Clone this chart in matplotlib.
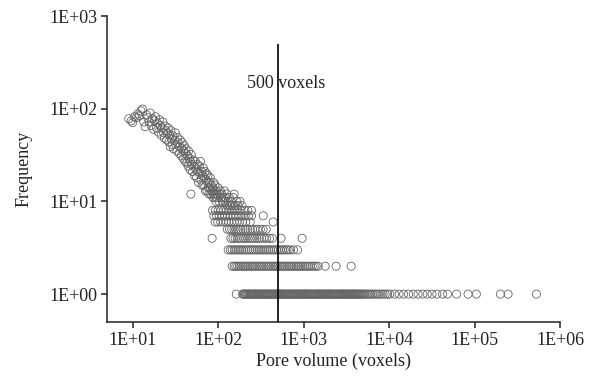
import matplotlib
matplotlib.use("Agg")
import matplotlib.pyplot as plt
from matplotlib.ticker import FixedLocator, FixedFormatter, NullLocator

plt.rcParams['font.family'] = ['Liberation Serif', 'DejaVu Serif']

# ---------------- data ----------------
x_ticks = [1e1, 1e2, 1e3, 1e4, 1e5, 1e6]
x_tick_labels = ["1E+01", "1E+02", "1E+03", "1E+04", "1E+05", "1E+06"]
y_ticks = [1, 10, 100, 1000]
y_tick_labels = ["1E+00", "1E+01", "1E+02", "1E+03"]

# upper cloud (pore volume, frequency)
cloud_v = [9, 9.6, 10, 10.5, 11, 11.5, 12, 12.5, 13, 13.5, 14, 14.5, 15, 15.5, 16, 16.5, 17,
           17.5, 18, 18.5, 19, 19.5, 20, 20.5, 21, 21.5, 22, 22.5, 23, 23.5, 24, 24.5, 25,
           25.5, 26, 26.5, 27, 27.5, 28, 28.5, 29, 29.5, 30, 31, 31.5, 32, 33, 33.5, 34, 35,
           35.5, 36, 37, 37.5, 38, 39, 39.5, 40, 41, 41.5, 42, 43, 44, 44.5, 45, 46, 47, 47.5,
           48, 48.5, 49, 50, 51, 52, 53, 54, 55, 56, 57, 58, 59, 60, 61, 62, 63, 64, 65, 66,
           67, 68, 69, 70, 71, 72, 73, 74, 75, 76, 77, 78, 79, 80, 81, 82, 83, 84, 86, 87, 88,
           89, 90, 91, 92, 93, 94, 95, 96, 98, 100, 102, 104, 106, 108, 110, 112, 115, 118,
           120, 122, 126, 128, 131, 135, 137, 142, 146, 150, 154, 158, 165, 172, 180, 190]
cloud_f = [78, 74, 71, 82, 80, 88, 84, 95, 99, 72, 64, 86, 80, 72, 90, 66, 78,
           60, 74, 82, 62, 70, 56, 76, 66, 52, 62, 72, 55, 48, 65, 58, 46,
           54, 62, 44, 52, 39, 58, 47, 41, 51, 37, 46, 55, 41, 35, 49, 43, 33,
           39, 46, 31, 37, 43, 29, 35, 40, 27, 33, 37, 26, 31, 24, 35, 29, 22, 27,
           12, 32, 25, 21, 28, 24, 19, 27, 22, 18, 25, 21, 16, 24, 20, 27, 17, 21, 15, 19,
           23, 15, 18, 21, 13, 17, 20, 13, 16, 19, 14, 12, 16, 14, 18, 12, 15, 13, 14, 11, 16,
           12, 13, 11, 15, 12, 10, 13, 11, 12, 14, 10, 12, 13, 11, 12, 10, 11, 13,
           10, 11, 12, 9, 10, 11, 9, 10, 9, 11, 12, 9, 10, 9, 10, 9]

# rows of small integer frequency: pore volumes observed at each frequency
v_f8 = [86, 93, 100, 108, 116, 125, 134, 145, 157, 170, 185, 205, 222, 245]
v_f7 = [89, 96, 103, 111, 120, 129, 139, 150, 162, 175, 190, 207, 226, 246, 337]
v_f6 = [92, 99, 107, 115, 124, 133, 143, 154, 166, 179, 193, 210, 237, 440]
v_f5 = [128, 136, 144, 153, 162, 172, 183, 195, 208, 222, 237, 253, 270, 290, 312, 335, 365]
v_f4 = [85, 141, 149, 158, 167, 177, 188, 199, 211, 224, 238, 252, 268, 284, 302, 322, 345,
        370, 398, 430, 545, 960]
v_f3 = [131, 139, 146, 154, 162, 171, 180, 189, 199, 210, 221, 233, 245, 258, 272, 286, 301,
        317, 334, 352, 371, 391, 412, 434, 457, 481, 507, 534, 563, 593, 625, 660, 700, 760,
        850]
v_f2 = [146, 154, 161, 169, 177, 186, 195, 204, 214, 225, 236, 247, 259, 272, 285, 299, 313,
        328, 344, 361, 379, 397, 416, 437, 458, 480, 503, 528, 553, 580, 609, 638, 669, 702,
        736, 772, 810, 850, 892, 936, 982, 1030, 1080, 1135, 1195, 1260, 1330, 1400, 1480,
        1790, 2400, 3600]
v_f1 = [163, 193, 198, 203, 208, 213, 219, 224, 230, 236, 242, 248, 254, 261, 268, 275, 282,
        289, 296, 304, 312, 320, 328, 337, 345, 354, 364, 373, 383, 393, 403, 414, 424, 436,
        447, 459, 471, 483, 496, 508, 522, 535, 549, 564, 578, 594, 609, 625, 641, 658, 675,
        693, 711, 730, 749, 768, 788, 809, 830, 852, 874, 897, 920, 944, 969, 994, 1020, 1047,
        1074, 1102, 1131, 1161, 1191, 1222, 1254, 1287, 1321, 1355, 1391, 1427, 1464, 1502,
        1542, 1582, 1623, 1666, 1709, 1754, 1800, 1847, 1895, 1945, 1996, 2048, 2101, 2156,
        2213, 2271, 2330, 2391, 2454, 2518, 2584, 2651, 2721, 2792, 2865, 2940, 3017, 3096,
        3177, 3260, 3346, 3433, 3523, 3615, 3710, 3807, 3907, 4009, 4114, 4222, 4333, 4446,
        4560, 4700, 4850, 5000, 5200, 5400, 5650, 5900, 6150, 6450, 6800, 7150, 7550, 8000,
        8500, 9000, 9600, 10200, 11600, 13100, 14800, 16900, 19200, 21800, 24800, 28000,
        31800, 36200, 42300, 48400, 61700, 84000, 105000, 201000, 247000, 530000]

threshold = 500

# ---------------- assemble ----------------
pts = list(zip(cloud_v, cloud_f))
for f, vs in [(8, v_f8), (7, v_f7), (6, v_f6), (5, v_f5), (4, v_f4), (3, v_f3), (2, v_f2), (1, v_f1)]:
    pts += [(v, f) for v in vs]
pts.sort(key=lambda p: p[0])
xs = [p[0] for p in pts]
ys = [p[1] for p in pts]

fig = plt.figure(figsize=(5.97, 3.78), dpi=100)
ax = fig.add_axes([0.1792, 0.1481, 0.7588, 0.8095])

ax.scatter(xs, ys, s=34, facecolors='none', edgecolors='#656565', linewidths=0.6, zorder=2)
ax.vlines(threshold, 0.5, 500, colors='black', linewidth=1.2, zorder=3)
ax.text(218, 189, "500 voxels", fontsize=13, ha='left', va='center', color='#222222')

ax.set_xscale('log')
ax.set_yscale('log')
ax.set_xlim(5, 1e6)
ax.set_ylim(0.5, 1000)
ax.xaxis.set_major_locator(FixedLocator(x_ticks))
ax.xaxis.set_major_formatter(FixedFormatter(x_tick_labels))
ax.xaxis.set_minor_locator(NullLocator())
ax.yaxis.set_major_locator(FixedLocator(y_ticks))
ax.yaxis.set_major_formatter(FixedFormatter(y_tick_labels))
ax.yaxis.set_minor_locator(NullLocator())

for s in ['top', 'right']:
    ax.spines[s].set_visible(False)
for s in ['left', 'bottom']:
    ax.spines[s].set_linewidth(1.1)
    ax.spines[s].set_color('#222222')
ax.tick_params(direction='out', length=4, width=1.1, labelsize=13, pad=3,
               colors='#222222')

ax.set_xlabel("Pore volume (voxels)", fontsize=13, labelpad=3, color='#222222')
ax.set_ylabel("Frequency", fontsize=13, labelpad=12, color='#222222')

fig.savefig("out.png", dpi=100)
